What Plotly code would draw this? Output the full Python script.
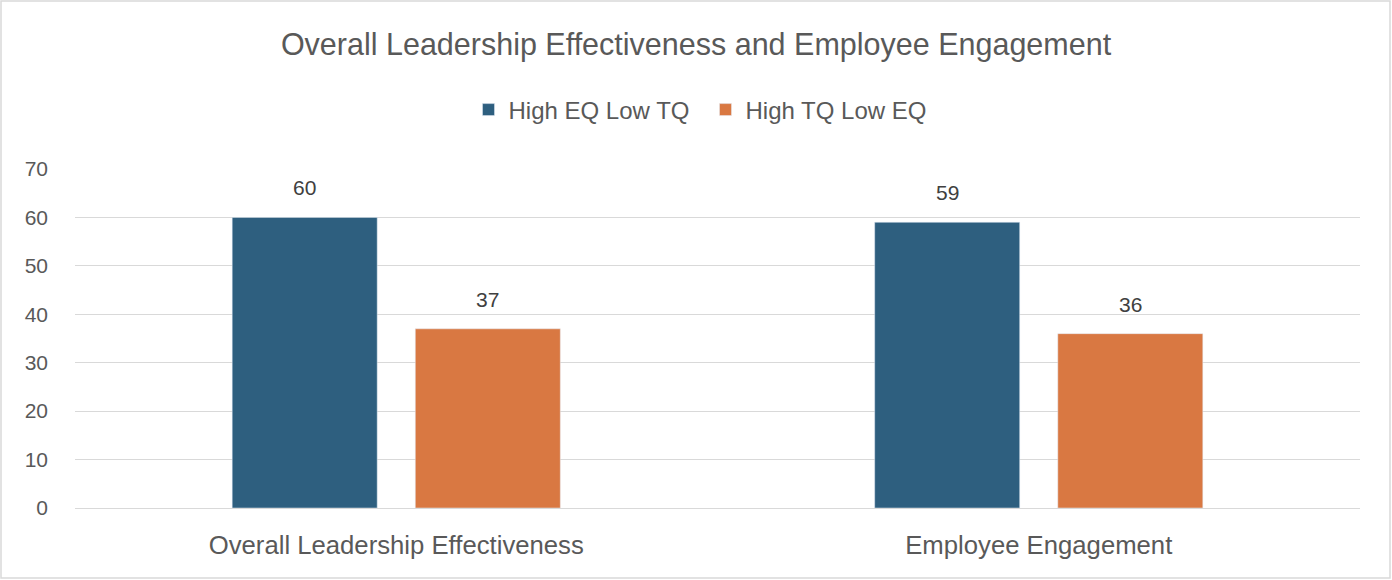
import plotly.graph_objects as go

categories = ["Overall Leadership Effectiveness", "Employee Engagement"]
series_names = ["High EQ Low TQ", "High TQ Low EQ"]
high_eq_low_tq = [60, 59]
high_tq_low_eq = [37, 36]
colors = ["#2E5F7F", "#D97842"]

W, H = 1392, 580
L, R, T, B = 75, 32, 169, 72
pw, ph = W - L - R, H - T - B
BARGAP, GROUPGAP = 0.43, 0.208
FONT = "Liberation Sans, Arial, sans-serif"

def px_x(p):
    return (p - L) / pw

def px_y(p):
    return (H - B - p) / ph

fig = go.Figure()
for name, vals, col in zip(series_names, [high_eq_low_tq, high_tq_low_eq], colors):
    fig.add_trace(go.Bar(x=categories, y=vals, name=name, marker_color=col))

# data labels
cat_w = pw / len(categories)
slot = (1 - BARGAP) * cat_w / 2
annotations = []
for i, vals in enumerate([high_eq_low_tq, high_tq_low_eq]):
    shift = (i - 0.5) * slot
    for c, v in zip(categories, vals):
        annotations.append(dict(x=c, y=v, xref="x", yref="y", text=str(v), showarrow=False,
                                xshift=shift, yshift=16, yanchor="bottom",
                                font=dict(family=FONT, size=21, color="#404040")))

fig.update_layout(
    width=W, height=H,
    margin=dict(l=L, r=R, t=T, b=B),
    paper_bgcolor="white", plot_bgcolor="white",
    barmode="group", bargap=BARGAP, bargroupgap=GROUPGAP,
    title=dict(text="Overall Leadership Effectiveness and Employee Engagement",
               x=0.5, xanchor="center", y=1 - 44 / H, yanchor="middle",
               font=dict(family=FONT, size=30.5, color="#595959")),
    legend=dict(orientation="h", x=0.5 - 12 / pw, xanchor="center", y=px_y(110), yanchor="middle",
                font=dict(family=FONT, size=24, color="#595959"),
                itemwidth=30, entrywidth=192, traceorder="normal"),
    annotations=annotations,
    shapes=[dict(type="rect", xref="paper", yref="paper",
                 x0=px_x(1), x1=px_x(1390), y0=px_y(578), y1=px_y(1),
                 line=dict(color="#D9D9D9", width=1.5), fillcolor="rgba(0,0,0,0)", layer="below")],
)
fig.update_yaxes(range=[0, 70], dtick=10, showgrid=True, gridcolor="#D9D9D9", gridwidth=1,
                 zeroline=False, showline=False, ticks="",
                 tickfont=dict(family=FONT, size=21, color="#595959"), ticklabelstandoff=26)
fig.update_xaxes(showline=True, linecolor="#D9D9D9", linewidth=1, ticks="",
                 tickfont=dict(family=FONT, size=25.7, color="#595959"), ticklabelstandoff=14)

fig.write_html("out.html", config={"displayModeBar": False},
               post_script="document.body.style.margin='0';document.body.style.padding='0';")
